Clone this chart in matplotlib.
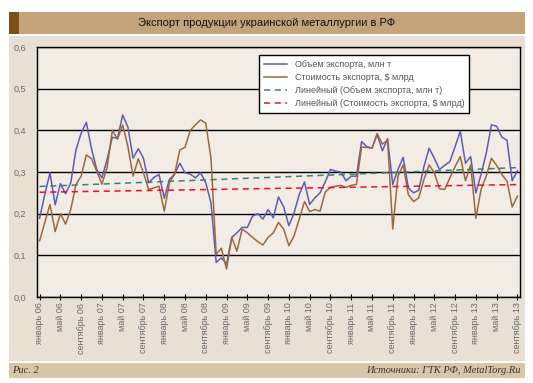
import numpy as np
import matplotlib
matplotlib.use("Agg")
import matplotlib.pyplot as plt
from matplotlib.patches import Rectangle

plt.rcParams['font.family'] = ['Liberation Sans', 'DejaVu Sans']

# monthly data, январь 2006 - сентябрь 2013
volume = [0.189, 0.246, 0.298, 0.221, 0.272, 0.248, 0.274, 0.353, 0.393, 0.419,
          0.356, 0.306, 0.286, 0.330, 0.383, 0.381, 0.437, 0.408, 0.333, 0.356,
          0.333, 0.274, 0.287, 0.294, 0.237, 0.282, 0.295, 0.321, 0.298, 0.295,
          0.286, 0.298, 0.274, 0.226, 0.083, 0.094, 0.079, 0.143, 0.154, 0.167,
          0.167, 0.194, 0.200, 0.187, 0.210, 0.190, 0.240, 0.216, 0.171, 0.202,
          0.246, 0.276, 0.222, 0.238, 0.250, 0.276, 0.306, 0.302, 0.300, 0.279,
          0.290, 0.290, 0.373, 0.361, 0.357, 0.390, 0.351, 0.380, 0.270, 0.306,
          0.335, 0.262, 0.250, 0.256, 0.313, 0.357, 0.333, 0.306, 0.316, 0.325,
          0.361, 0.398, 0.321, 0.337, 0.250, 0.294, 0.345, 0.413, 0.410, 0.384,
          0.376, 0.279, 0.303]
value = [0.135, 0.179, 0.222, 0.157, 0.200, 0.175, 0.210, 0.270, 0.290, 0.341,
         0.332, 0.302, 0.271, 0.311, 0.400, 0.379, 0.413, 0.361, 0.290, 0.332,
         0.298, 0.258, 0.262, 0.266, 0.206, 0.274, 0.295, 0.353, 0.359, 0.400,
         0.413, 0.425, 0.417, 0.333, 0.103, 0.117, 0.067, 0.143, 0.110, 0.163,
         0.154, 0.143, 0.133, 0.125, 0.143, 0.154, 0.179, 0.163, 0.123, 0.147,
         0.187, 0.229, 0.205, 0.210, 0.206, 0.252, 0.263, 0.266, 0.268, 0.263,
         0.268, 0.270, 0.360, 0.359, 0.357, 0.392, 0.367, 0.376, 0.163, 0.290,
         0.317, 0.246, 0.229, 0.238, 0.282, 0.317, 0.298, 0.260, 0.258, 0.286,
         0.313, 0.337, 0.279, 0.317, 0.189, 0.258, 0.290, 0.333, 0.316, 0.294,
         0.278, 0.216, 0.242]

months = ['январь', 'май', 'сентябрь']
years = ['06', '07', '08', '09', '10', '11', '12', '13']
tick_labels = [m + ' ' + y for y in years for m in months]

W, H = 533, 383
fig = plt.figure(figsize=(W / 100, H / 100), dpi=100)
fig.patch.set_facecolor('white')

def box(x0, y0, x1, y1, color):
    fig.patches.append(Rectangle((x0 / W, 1 - y1 / H), (x1 - x0) / W, (y1 - y0) / H,
                                 transform=fig.transFigure, facecolor=color,
                                 edgecolor='none', zorder=-10))

box(9, 12, 525, 34, '#C4A57B')
box(9, 12, 19, 34, '#7E4E14')
box(9, 36, 525, 361, '#E9DFD2')
box(9, 363, 525, 378, '#D9C6A8')

fig.text(267 / W, 1 - 23 / H, 'Экспорт продукции украинской металлургии в РФ',
         ha='center', va='center', fontsize=8, color='#111111')
fig.text(12 / W, 1 - 370.5 / H, 'Рис. 2', family='Liberation Serif', style='italic',
         ha='left', va='center', fontsize=7.5, color='#333333')
fig.text(521 / W, 1 - 370.5 / H, 'Источники: ГТК РФ, MetalTorg.Ru',
         family='Liberation Serif', style='italic', ha='right', va='center',
         fontsize=7.5, color='#333333')

ax = fig.add_axes([37 / W, 1 - 297 / H, 483 / W, 250 / H])
ax.set_facecolor('#F2ECE5')

x = np.arange(len(volume))
ax.plot(x, volume, color='#5E5BB8', lw=1.1, label='Объем экспорта, млн т')
ax.plot(x, value, color='#9A6A3C', lw=1.1, label='Стоимость экспорта, $ млрд')

kv = np.polyfit(x, volume, 1)
ks = np.polyfit(x, value, 1)
ax.plot(x, np.polyval(kv, x), color='#3F7F6E', lw=1.1, dashes=(4, 3),
        label='Линейный (Объем экспорта, млн т)')
ax.plot(x, np.polyval(ks, x), color='#E8102E', lw=1.1, dashes=(4, 3),
        label='Линейный (Стоимость экспорта, $ млрд)')

ax.set_xlim(-0.5, len(volume) - 0.5)
ax.set_ylim(0, 0.6)
yt = np.arange(0, 0.61, 0.1)
ax.set_yticks(yt)
ax.set_yticklabels([f'{v:.1f}'.replace('.', ',') for v in yt], fontsize=6.5, color='#6b6b6b')
ax.yaxis.grid(True, color='black', lw=1)
ax.set_axisbelow(True)

ax.set_xticks(np.arange(0, len(volume), 4))
ax.set_xticklabels(tick_labels, rotation=90, fontsize=6.5, color='#6b6b6b')
ax.tick_params(axis='x', direction='inout', length=4, width=0.8, pad=2)
ax.tick_params(axis='y', length=0, pad=8)
for s in ax.spines.values():
    s.set_color('black')
    s.set_linewidth(1)

leg = ax.legend(loc='upper left', bbox_to_anchor=(259 / W, 1 - 55 / H),
                bbox_transform=fig.transFigure, borderaxespad=0, fontsize=6.5,
                frameon=True, fancybox=False, edgecolor='black', facecolor='white',
                framealpha=1, handlelength=2.6, borderpad=0.55, labelspacing=0.45,
                handletextpad=0.8)
leg.get_frame().set_linewidth(1)
for t in leg.get_texts():
    t.set_color('#555555')

fig.savefig('out.png', dpi=100)
